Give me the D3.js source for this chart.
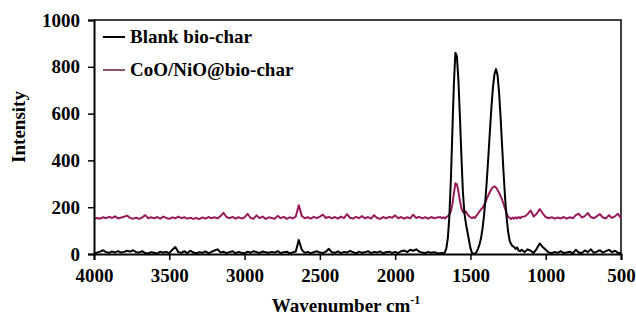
<!DOCTYPE html>
<html>
<head>
<meta charset="utf-8">
<script src="https://cdn.jsdelivr.net/npm/d3@7"></script>
<style>
  body { margin: 0; background: #fff; }
</style>
</head>
<body>
<svg id="chart" width="636" height="321"></svg>
<script>
// Raman shift grid (cm-1), coarse on the flat parts, finer across the D/G bands
const wavenumber = [
  4000, 3980, 3960, 3940, 3920, 3900, 3880, 3860, 3840, 3820,
  3800, 3780, 3760, 3740, 3720, 3700, 3680, 3660, 3640, 3620,
  3600, 3580, 3560, 3540, 3520, 3500, 3480, 3460, 3440, 3420,
  3400, 3380, 3360, 3340, 3320, 3300, 3280, 3260, 3240, 3220,
  3200, 3180, 3160, 3140, 3120, 3100, 3080, 3060, 3040, 3020,
  3000, 2980, 2960, 2940, 2920, 2900, 2880, 2860, 2840, 2820,
  2800, 2780, 2760, 2740, 2720, 2700, 2680, 2660, 2640, 2620,
  2600, 2580, 2560, 2540, 2520, 2500, 2480, 2460, 2440, 2420,
  2400, 2380, 2360, 2340, 2320, 2300, 2280, 2260, 2240, 2220,
  2200, 2180, 2160, 2140, 2120, 2100, 2080, 2060, 2040, 2020,
  2000, 1980, 1960, 1940, 1920, 1900, 1880, 1860, 1840, 1820,
  1800, 1780, 1760, 1740, 1720,
  1700, 1690, 1680, 1670, 1660, 1650, 1640, 1630, 1620, 1610,
  1600, 1590, 1580, 1570, 1560, 1550, 1540, 1530, 1520, 1510,
  1500, 1490, 1480, 1470, 1460, 1450, 1440, 1430, 1420, 1410,
  1400, 1390, 1380, 1370, 1360, 1350, 1340, 1330, 1320, 1310,
  1300, 1290, 1280, 1270, 1260, 1250, 1240, 1230, 1220, 1210,
  1200, 1190, 1180, 1170, 1160,
  1140, 1120, 1100, 1080, 1060, 1040, 1020, 1000, 980, 960,
  940, 920, 900, 880, 860, 840, 820, 800, 780, 760,
  740, 720, 700, 680, 660, 640, 620, 600, 580, 560,
  540, 520, 500
]

const blank = [
  2, 6, 10, 16, 8, 5, 11, 7, 12, 6,
  9, 14, 10, 16, 8, 6, 12, 4, 3, 8,
  5, 2, 10, 6, 9, 4, 18, 30, 8, 5,
  12, 4, 14, 6, 3, 8, 5, 11, 4, 9,
  15, 20, 7, 10, 4, 8, 12, 3, 9, 5,
  3, 10, 6, 12, 8, 4, 11, 7, 5, 9,
  6, 12, 4, 8, 10, 3, 7, 11, 60, 18,
  5, 9, 3, 8, 12, 6, 4, 10, 22, 7,
  5, 11, 4, 9, 6, 13, 8, 3, 10, 5,
  7, 12, 4, 9, 6, 11, 3, 8, 10, 5,
  9, 4, 12, 15, 8, 18, 14, 20, 10, 6,
  4, 9, 5, 8, 3,
  3, 5, 2, 7, 24, 68, 160, 315, 522, 725,
  860, 845, 745, 590, 420, 265, 175, 130, 95, 60,
  25, 5, 0, 2, 8, 22, 40, 67, 107, 163,
  235, 325, 426, 532, 632, 715, 770, 790, 765, 693,
  588, 467, 347, 242, 158, 97, 58, 42, 34, 30,
  22, 28, 15, 12, 18,
  8, 20, 14, 5, 22, 45, 30, 18, 6, 4,
  9, 5, 12, 4, 7, 10, 3, 18, 6, 4,
  15, 8, 20, 5, 10, 16, 6, 12, 18, 8,
  14, 5, 3
]

const cooNio = [
  150, 154, 151, 157, 153, 159, 154, 161, 152, 156,
  159, 164, 154, 151, 155, 150, 156, 166, 153, 157,
  152, 158, 151, 160, 154, 150, 157, 152, 160, 153,
  157, 151, 155, 150, 154, 149, 156, 151, 158, 153,
  157, 152, 162, 176, 158, 153, 159, 151, 157, 152,
  156, 172, 154, 151, 165, 153, 160, 150, 157, 154,
  151, 163, 153, 159, 150, 157, 152, 160, 208, 163,
  153, 157, 151, 159, 153, 160, 168, 154, 159, 152,
  158, 151, 160, 153, 170, 155, 151, 159, 153, 162,
  152, 158, 151, 166, 154, 150, 158, 152, 159, 155,
  165, 153, 158, 151, 157, 152, 168, 154, 159, 152,
  157, 151, 158, 153, 156,
  158, 153, 157, 152, 158, 162, 168, 182, 212, 258,
  302, 298, 268, 228, 196, 180, 176, 182, 170, 162,
  157, 153, 158, 154, 164, 172, 182, 190, 197, 208,
  222, 238, 252, 266, 278, 286, 289, 284, 274, 262,
  248, 232, 214, 194, 175, 160, 154, 150, 156, 151,
  157, 152, 158, 153, 159,
  160, 170, 186, 160, 172, 192, 174, 158, 153, 157,
  151, 156, 152, 158, 151, 157, 153, 166, 172, 156,
  162, 175, 158, 153, 162, 170, 156, 152, 166, 154,
  161, 172, 152
]

const seriesNames = ["Blank bio-char", "CoO/NiO@bio-char"]
const seriesColors = ["#000000", "#9a1b5c"]
const xTicks = [4000, 3500, 3000, 2500, 2000, 1500, 1000, 500]
const yTicks = [0, 200, 400, 600, 800, 1000]

const FONT = "'Liberation Serif', 'Times New Roman', serif"

const svg = d3.select("#chart")
const margin = { top: 20, right: 15, bottom: 67, left: 94 }
const width = +svg.attr("width") - margin.left - margin.right
const height = +svg.attr("height") - margin.top - margin.bottom

const x = d3.scaleLinear().domain([4000, 500]).range([0, width])
const y = d3.scaleLinear().domain([0, 1000]).range([height, 0])

const g = svg.append("g").attr("transform", `translate(${margin.left},${margin.top})`)

// frame (top + right)
g.append("path")
  .attr("d", `M0,0H${width}V${height}`)
  .attr("fill", "none")
  .attr("stroke", "#000")
  .attr("stroke-width", 1.5)

const series = [blank, cooNio]
const line = d3.line()
  .x((d, i) => x(wavenumber[i]))
  .y(d => y(d))

// magenta trace first so the black peaks sit on top
;[1, 0].forEach(idx => {
  g.append("path")
    .datum(series[idx])
    .attr("fill", "none")
    .attr("stroke", seriesColors[idx])
    .attr("stroke-width", 2)
    .attr("stroke-linejoin", "round")
    .attr("d", line)
})

const xAxis = g.append("g")
  .attr("transform", `translate(0,${height})`)
  .call(d3.axisBottom(x).tickValues(xTicks).tickSize(6).tickPadding(5).tickFormat(d3.format("d")))
const yAxis = g.append("g")
  .call(d3.axisLeft(y).tickValues(yTicks).tickSize(6).tickPadding(8).tickFormat(d3.format("d")))

;[xAxis, yAxis].forEach(ax => {
  ax.attr("font-family", FONT).attr("font-size", 19).attr("font-weight", "bold")
  ax.select(".domain").attr("stroke-width", 2)
  ax.selectAll(".tick line").attr("stroke-width", 1.5)
  ax.selectAll("text").attr("fill", "#000")
})
xAxis.selectAll("text").attr("dy", "0.9em")

// legend
const legend = g.append("g").attr("transform", "translate(9,17)")
seriesNames.forEach((name, i) => {
  const row = legend.append("g").attr("transform", `translate(0,${i * 33})`)
  row.append("line")
    .attr("x1", 0).attr("x2", 22)
    .attr("stroke", i === 0 ? "#000" : "#6e1a33")
    .attr("stroke-width", i === 0 ? 2 : 1.5)
  row.append("text")
    .attr("x", 27).attr("y", 6)
    .attr("font-family", FONT).attr("font-weight", "bold")
    .attr("font-size", 19)
    .text(name)
})

// axis titles
svg.append("text")
  .attr("transform", "translate(25,127) rotate(-90)")
  .attr("text-anchor", "middle")
  .attr("font-family", FONT).attr("font-weight", "bold")
  .attr("font-size", 19)
  .text("Intensity")

const xt = svg.append("text")
  .attr("x", 346)
  .attr("y", 312)
  .attr("text-anchor", "middle")
  .attr("font-family", FONT).attr("font-weight", "bold")
  .attr("font-size", 19)
xt.append("tspan").text("Wavenumber cm")
xt.append("tspan").attr("font-size", 12).attr("dy", -8).text("-1")
</script>
</body>
</html>
